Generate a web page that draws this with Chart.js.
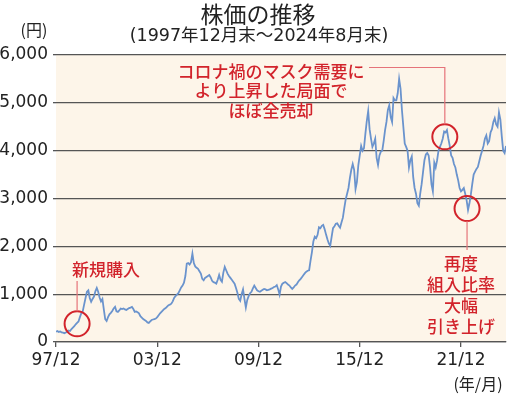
<!DOCTYPE html>
<html lang="ja">
<head>
<meta charset="utf-8">
<script src="https://cdn.jsdelivr.net/npm/chart.js@4.4.1/dist/chart.umd.min.js"></script>
<style>
  html, body { margin: 0; padding: 0; background: #fff; }
  #wrap { width: 507px; height: 395px; position: relative; }
</style>
</head>
<body>
<div id="wrap"><canvas id="chart"></canvas></div>
<script>
// month-end price, 1997/12 .. 2024/08 (yen)
const prices = [
  215, 230, 210, 220, 200, 195, 185, 200, 215, 240, 230, 270,      // 97/12-98/11
  300, 330, 370, 400, 430, 520, 600, 640, 780, 920, 1050, 1080,    // 98/12-
  920, 840, 900, 950, 1060, 1130, 1050, 930, 850, 900, 680, 480,   // 99/12-
  440, 520, 580, 610, 650, 700, 735, 640, 630, 660, 700, 690,      // 00/12-
  700, 680, 670, 690, 710, 720, 735, 690, 630, 640, 620, 600,      // 01/12-
  540, 510, 480, 460, 440, 410, 400, 430, 460, 470, 480, 490,      // 02/12-
  520, 560, 600, 630, 660, 690, 710, 740, 770, 780, 800, 850,      // 03/12-
  920, 960, 990, 1020, 1080, 1140, 1180, 1240, 1380, 1640, 1650, 1620, // 04/12-
  1670, 1850, 1650, 1580, 1550, 1530, 1480, 1430, 1320, 1290, 1340, 1360, // 05/12-
  1380, 1400, 1350, 1280, 1250, 1240, 1220, 1300, 1400, 1300, 1260, 1450, // 06/12-
  1570, 1500, 1430, 1380, 1340, 1300, 1260, 1220, 1130, 1030, 900, 860,   // 07/12-
  1000, 1100, 900, 720, 880, 960, 1020, 1050, 1120, 1180, 1130, 1080,     // 08/12-
  1060, 1050, 1070, 1090, 1110, 1100, 1080, 1090, 1100, 1115, 1130, 1150, // 09/12-
  1160, 1190, 1100, 990, 1160, 1220, 1240, 1255, 1230, 1200, 1180, 1140,  // 10/12-
  1110, 1140, 1180, 1200, 1250, 1290, 1320, 1360, 1400, 1440, 1470, 1490, // 11/12-
  1500, 1700, 1880, 2100, 2200, 2170, 2240, 2400, 2380, 2430, 2450, 2360, // 12/12-
  2250, 2150, 2060, 2010, 2200, 2380, 2420, 2470, 2480, 2430, 2390, 2500, // 13/12-
  2600, 2800, 2980, 3100, 3220, 3430, 3600, 3720, 3600, 3200, 3350, 3700, // 14/12-
  3900, 4100, 4000, 4050, 4350, 4620, 4830, 4450, 4250, 4080, 4150, 4250, // 15/12-
  3850, 3700, 3900, 3980, 4000, 4200, 4430, 4600, 4850, 4950, 4700, 4600, // 16/12-
  5100, 5050, 5050, 5200, 5500, 5300, 4850, 4500, 4150, 4080, 4000, 3650, // 17/12-
  3800, 3880, 3450, 3220, 3100, 2900, 2850, 3100, 3300, 3550, 3800, 3920, // 18/12-
  3950, 3900, 3650, 3300, 3150, 3750, 3650, 3800, 4000, 4080, 4150, 4250, // 19/12-
  4400, 4380, 4430, 4250, 4100, 3900, 3850, 3720, 3650, 3500, 3380, 3220, // 20/12-
  3150, 3180, 3220, 3100, 2960, 2760, 2900, 3080, 3300, 3500, 3560, 3620, // 21/12-
  3660, 3780, 3900, 4000, 4100, 4250, 4320, 4150, 4200, 4380, 4450, 4600, // 22/12-
  4680, 4550, 4500, 4800, 4650, 4300, 4000, 3950, 4100               // 23/12-24/08
];
const xTickMonths = [0, 72, 144, 216, 288];
const xTickLabels = ['97/12', '03/12', '09/12', '15/12', '21/12'];
const yTickValues = [0, 1000, 2000, 3000, 4000, 5000, 6000];

const FONT = '"DejaVu Sans", "Noto Sans CJK JP", sans-serif';
const JP = '"Noto Sans CJK JP", sans-serif';
const RED = '#d2232b';
const PINK = '#e5737a';

const paper = {
  id: 'paper',
  beforeDraw(chart) {
    const { ctx, chartArea: a } = chart;
    ctx.save();
    ctx.fillStyle = '#fdf5e9';
    ctx.fillRect(a.left, a.top, a.right - a.left, a.bottom - a.top);
    ctx.restore();
  }
};

const notes = {
  id: 'notes',
  afterDraw(chart) {
    const { ctx } = chart;
    const xs = chart.scales.x, ys = chart.scales.y;
    const circle = (m, v) => {
      const cx = xs.getPixelForValue(m), cy = ys.getPixelForValue(v);
      ctx.beginPath();
      ctx.arc(cx, cy, 12.5, 0, Math.PI * 2);
      ctx.strokeStyle = RED;
      ctx.lineWidth = 2;
      ctx.stroke();
      return { cx, cy };
    };
    const text = (s, x, y, size, color, weight, fam) => {
      ctx.font = (weight || 'normal') + ' ' + size + 'px ' + (fam || JP);
      ctx.fillStyle = color;
      ctx.textAlign = 'center';
      ctx.textBaseline = 'middle';
      ctx.fillText(s, x, y);
    };
    ctx.save();

    // titles
    text('株価の推移', 258, 14, 23, '#222');
    text('(1997年12月末〜2024年8月末)', 259, 36, 17.5, '#222', 'normal', FONT);
    text('(円)', 34, 30, 16, '#222');
    text('(年/月)', 478, 384, 16, '#222');

    // first purchase
    const c1 = circle(15, 380);
    ctx.beginPath();
    ctx.moveTo(c1.cx, 281);
    ctx.lineTo(c1.cx, c1.cy - 12.5);
    ctx.strokeStyle = PINK;
    ctx.lineWidth = 1.2;
    ctx.stroke();
    text('新規購入', 106, 270, 17, RED, 500);

    // covid mask demand sell-off
    const c2 = circle(276.5, 4290);
    ctx.beginPath();
    ctx.moveTo(369, 67.5);
    ctx.lineTo(c2.cx, 67.5);
    ctx.lineTo(c2.cx, c2.cy - 12.5);
    ctx.strokeStyle = PINK;
    ctx.lineWidth = 1.2;
    ctx.stroke();
    text('コロナ禍のマスク需要に', 271, 72, 17, RED, 500);
    text('より上昇した局面で', 271, 91, 17, RED, 500);
    text('ほぼ全売却', 271, 111, 17, RED, 500);

    // weight raised again
    const c3 = circle(292.3, 2790);
    ctx.beginPath();
    ctx.moveTo(c3.cx, c3.cy + 12.5);
    ctx.lineTo(c3.cx, 250);
    ctx.strokeStyle = PINK;
    ctx.lineWidth = 1.2;
    ctx.stroke();
    text('再度', 461, 264, 17, RED, 500);
    text('組入比率', 461, 285, 17, RED, 500);
    text('大幅', 461, 306, 17, RED, 500);
    text('引き上げ', 461, 327, 17, RED, 500);

    ctx.restore();
  }
};

new Chart(document.getElementById('chart'), {
  type: 'line',
  data: {
    datasets: [{
      data: prices.map((v, i) => ({ x: i, y: v })),
      borderColor: '#6a93cd',
      borderWidth: 1.8,
      pointRadius: 0,
      tension: 0,
      fill: false
    }]
  },
  options: {
    responsive: true,
    maintainAspectRatio: false,
    animation: false,
    devicePixelRatio: 1,
    layout: { padding: { top: 55, right: 1, left: 0, bottom: 0 } },
    plugins: { legend: { display: false }, tooltip: { enabled: false } },
    scales: {
      x: {
        type: 'linear',
        min: 0,
        max: prices.length - 1,
        afterBuildTicks: (scale) => { scale.ticks = xTickMonths.map(v => ({ value: v })); },
        afterFit: (scale) => { scale.height = 53; },
        ticks: {
          autoSkip: false,
          maxRotation: 0,
          padding: 3,
          color: '#222',
          font: { family: FONT, size: 17 },
          callback: (v) => xTickLabels[xTickMonths.indexOf(v)]
        },
        grid: { drawOnChartArea: false, drawTicks: true, tickLength: 5, color: '#555', lineWidth: 1.3 },
        border: { display: true, color: '#555', width: 1.3 }
      },
      y: {
        min: 0,
        max: 6000,
        afterBuildTicks: (scale) => { scale.ticks = yTickValues.map(v => ({ value: v })); },
        afterFit: (scale) => { scale.width = 56; },
        ticks: {
          padding: 5,
          color: '#222',
          font: { family: FONT, size: 17 },
          callback: (v) => v.toLocaleString('en-US')
        },
        grid: { color: '#555', lineWidth: 1.3, tickLength: 3 },
        border: { display: false }
      }
    }
  },
  plugins: [paper, notes]
});
</script>
</body>
</html>
